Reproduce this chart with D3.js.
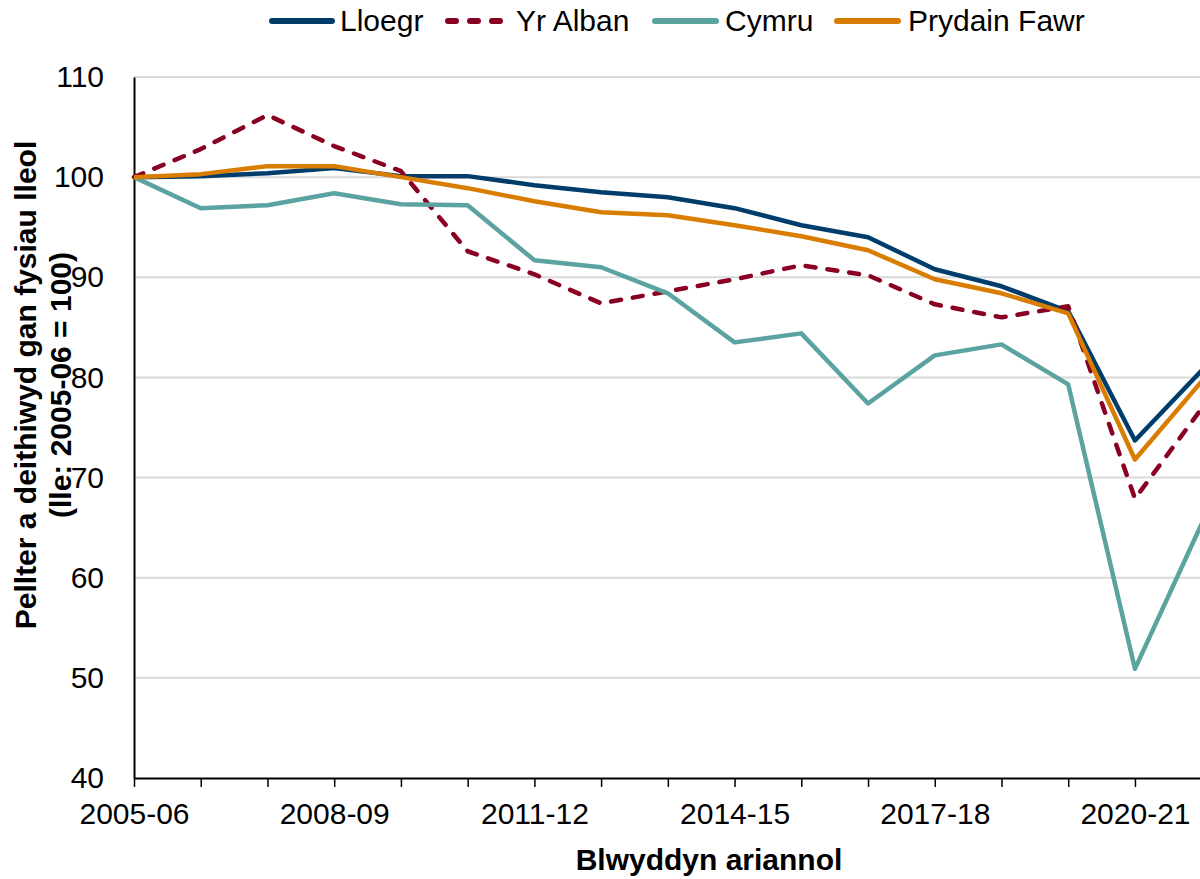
<!DOCTYPE html>
<html>
<head>
<meta charset="utf-8">
<script src="https://cdn.jsdelivr.net/npm/d3@7"></script>
<style>
  body { margin: 0; background: #fff; }
  svg { display: block; font-family: "Liberation Sans", Arial, sans-serif; }
</style>
</head>
<body>
<div id="chart"></div>
<script>
// financial years
var years = ['2005-06','2006-07','2007-08','2008-09','2009-10','2010-11','2011-12','2012-13',
  '2013-14','2014-15','2015-16','2016-17','2017-18','2018-19','2019-20','2020-21','2021-22'];
var tickLabels = ['2005-06','2008-09','2011-12','2014-15','2017-18','2020-21'];
var yTicks = [40, 50, 60, 70, 80, 90, 100, 110];

var lloegr = [100, 100.1, 100.4, 100.9, 100.1, 100.1, 99.2, 98.5, 98.0, 96.9, 95.2, 94.0, 90.8, 89.1, 86.6, 73.7, 80.7];
var yrAlban = [100, 102.8, 106.2, 103.1, 100.6, 92.6, 90.3, 87.4, 88.6, 89.8, 91.2, 90.2, 87.3, 86.0, 87.1, 67.9, 76.9];
var cymru = [100, 96.9, 97.2, 98.4, 97.3, 97.2, 91.7, 91.0, 88.4, 83.5, 84.4, 77.4, 82.2, 83.3, 79.3, 50.9, 65.4];
var prydainFawr = [100, 100.3, 101.1, 101.1, 100.0, 98.9, 97.6, 96.5, 96.2, 95.2, 94.1, 92.7, 89.8, 88.4, 86.4, 71.8, 79.6];

var seriesNames = ['Lloegr', 'Yr Alban', 'Cymru', 'Prydain Fawr'];

var series = [
  {name: seriesNames[0], values: lloegr, color: '#003d6b', dash: null},
  {name: seriesNames[1], values: yrAlban, color: '#8a0022', dash: '10,12'},
  {name: seriesNames[2], values: cymru, color: '#5aa3a0', dash: null},
  {name: seriesNames[3], values: prydainFawr, color: '#d97d00', dash: null}
];

var width = 1200, height = 879;
var svg = d3.select('#chart').append('svg')
  .attr('width', width).attr('height', height);

var x = d3.scalePoint().domain(years).range([134, 134 + 16 * 66.73]);
var y = d3.scaleLinear().domain([40, 110]).range([778, 77]);

// gridlines
svg.append('g').selectAll('line')
  .data(yTicks.filter(function(d){ return d > 40; }))
  .enter().append('line')
    .attr('x1', 134).attr('x2', width)
    .attr('y1', function(d){ return y(d); })
    .attr('y2', function(d){ return y(d); })
    .attr('stroke', '#d9d9d9').attr('stroke-width', 2);

// y axis
var yAxis = svg.append('g')
  .attr('transform', 'translate(134,0)')
  .call(d3.axisLeft(y).tickValues(yTicks).tickSize(0).tickPadding(30));
yAxis.select('.domain').attr('stroke', '#000').attr('stroke-width', 2);
yAxis.selectAll('text').attr('font-size', 30).attr('fill', '#000')
  .attr('font-family', '"Liberation Sans", Arial, sans-serif');

// x axis
var xAxis = svg.append('g')
  .attr('transform', 'translate(0,778)')
  .call(d3.axisBottom(x).tickSizeInner(9).tickSizeOuter(0).tickPadding(16)
    .tickFormat(function(d){ return tickLabels.indexOf(d) >= 0 ? d : ''; }));
xAxis.select('.domain').attr('stroke', '#000').attr('stroke-width', 2);
xAxis.selectAll('.tick line').attr('stroke', '#000').attr('stroke-width', 1.5);
xAxis.selectAll('text').attr('font-size', 30).attr('fill', '#000')
  .attr('font-family', '"Liberation Sans", Arial, sans-serif');

// lines
var line = d3.line()
  .x(function(d, i){ return x(years[i]); })
  .y(function(d){ return y(d); });

svg.append('g').selectAll('path')
  .data(series)
  .enter().append('path')
    .attr('d', function(d){ return line(d.values); })
    .attr('fill', 'none')
    .attr('stroke', function(d){ return d.color; })
    .attr('stroke-width', 4.5)
    .attr('stroke-linejoin', 'round')
    .attr('stroke-linecap', function(d){ return d.dash ? 'round' : 'butt'; })
    .attr('stroke-dasharray', function(d){ return d.dash; });

// axis titles
svg.append('text')
  .attr('x', 709).attr('y', 870)
  .attr('text-anchor', 'middle')
  .attr('font-size', 30).attr('font-weight', 'bold')
  .text('Blwyddyn ariannol');

var yt = svg.append('text')
  .attr('transform', 'translate(36,385) rotate(-90)')
  .attr('text-anchor', 'middle')
  .attr('font-size', 30).attr('font-weight', 'bold');
yt.append('tspan').attr('x', 0).attr('dy', 0).text('Pellter a deithiwyd gan fysiau lleol');
yt.append('tspan').attr('x', 0).attr('dy', 35).text('(lle: 2005-06 = 100)');

// legend
var legendLine = [[269, 335], [445, 505], [652, 719], [834, 901]];
var legendText = [340, 516, 725, 908];
var legend = svg.append('g').selectAll('g')
  .data(series)
  .enter().append('g');
legend.append('line')
  .attr('x1', function(d, i){ return legendLine[i][0] + 3; })
  .attr('x2', function(d, i){ return legendLine[i][1] - 3; })
  .attr('y1', 21).attr('y2', 21)
  .attr('stroke', function(d){ return d.color; })
  .attr('stroke-width', 6)
  .attr('stroke-linecap', 'round')
  .attr('stroke-dasharray', function(d){ return d.dash ? '8,14' : null; });
legend.append('text')
  .attr('x', function(d, i){ return legendText[i]; })
  .attr('y', 31)
  .attr('font-size', 30)
  .text(function(d){ return d.name; });
</script>
</body>
</html>
